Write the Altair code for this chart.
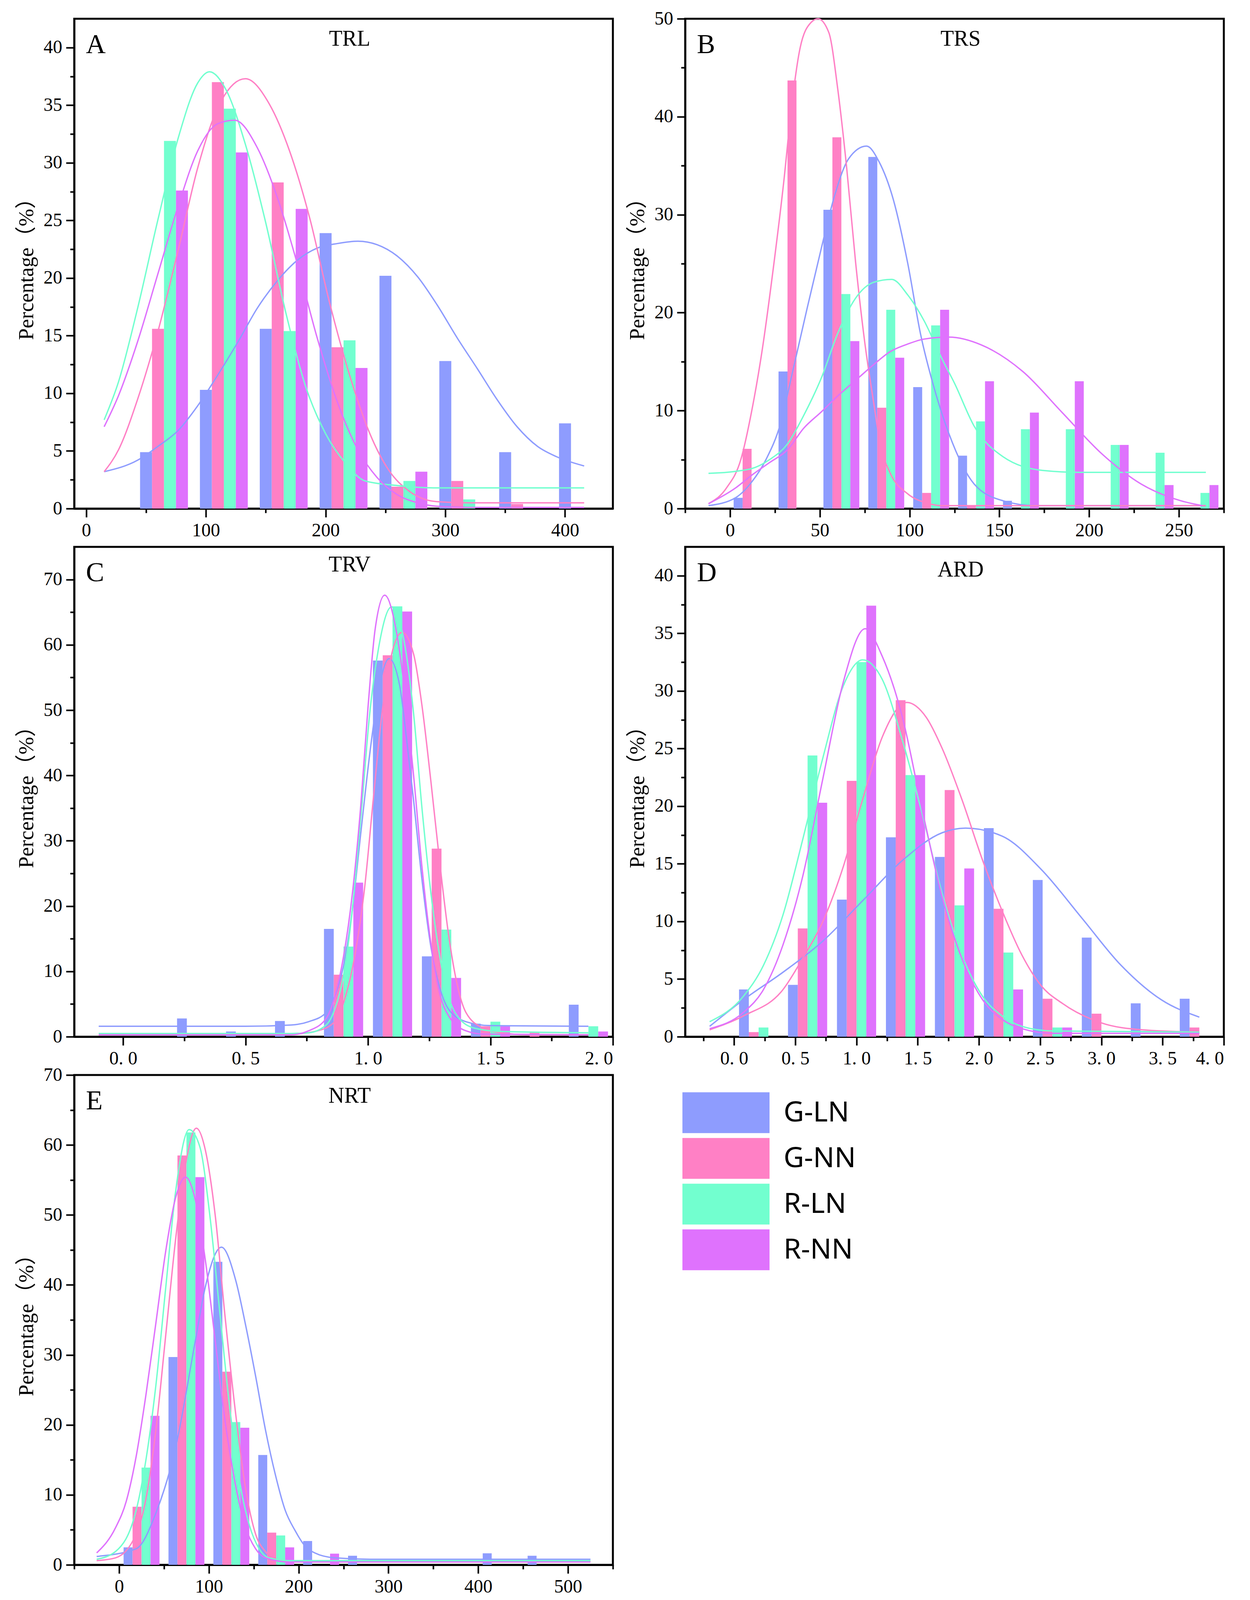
import pandas as pd
import altair as alt

SERIES = ["G-LN", "G-NN", "R-LN", "R-NN"]
COLORS = ["#8e9cfe", "#ff80c5", "#72ffcf", "#df72fd"]

# ---------- A : TRL ----------
a_bins = [45, 95, 145, 195, 245, 295, 345, 395]   # left edge of the G-LN bar
a_gln = [4.9, 10.3, 15.6, 23.9, 20.2, 12.8, 4.9, 7.4]
a_gnn = [15.6, 37.0, 28.3, 14.0, 1.9, 2.4, 0.4, 0]
a_rln = [31.9, 34.7, 15.4, 14.6, 2.4, 0.8, 0, 0]
a_rnn = [27.6, 30.9, 26.0, 12.2, 3.2, 0, 0, 0]
a_fit_gln = [(15, 3.2), (43, 4.2), (60, 5.4), (77, 6.8), (93, 8.9), (110, 11.6), (127, 14.5),
             (143, 17.4), (160, 19.8), (177, 21.6), (193, 22.6), (210, 23.0), (227, 23.2),
             (243, 22.9), (260, 21.9), (277, 20.1), (293, 17.7), (310, 14.8), (327, 12.1),
             (343, 9.5), (360, 7.1), (377, 5.4), (393, 4.5), (416, 3.7)]
a_fit_gnn = [(15, 3.2), (27, 5.1), (43, 9.5), (60, 15.4), (77, 22.5), (93, 29.5), (110, 34.8),
             (133, 37.3), (153, 35.1), (170, 31.0), (187, 25.1), (203, 18.0), (220, 11.6),
             (237, 6.5), (253, 3.3), (270, 1.5), (293, 0.6), (320, 0.5), (416, 0.5)]
a_fit_rln = [(15, 7.7), (27, 11.0), (43, 17.4), (60, 25.1), (77, 32.2), (93, 36.9), (103, 37.9),
             (117, 36.3), (133, 31.6), (150, 24.8), (167, 16.9), (183, 10.7), (200, 6.5),
             (217, 3.9), (233, 2.4), (260, 2.0), (290, 1.8), (416, 1.8)]
a_fit_rnn = [(15, 7.1), (27, 9.8), (43, 14.5), (60, 20.4), (77, 26.3), (93, 31.0), (110, 33.4),
             (124, 33.7), (143, 31.3), (160, 26.9), (177, 21.0), (193, 14.8), (210, 9.2),
             (227, 5.1), (243, 2.7), (260, 1.2), (277, 0.5), (293, 0.2), (320, 0.1), (416, 0.1)]
a_xticks = [0, 50, 100, 150, 200, 250, 300, 350, 400]
a_yticks = [0, 2.5, 5, 7.5, 10, 12.5, 15, 17.5, 20, 22.5, 25, 27.5, 30, 32.5, 35, 37.5, 40]

# ---------- B : TRS ----------
b_bins = [2, 27, 52, 77, 102, 127, 152, 177, 202, 227, 252]
b_gln = [1.1, 14.0, 30.5, 35.9, 12.4, 5.4, 0.8, 0, 0, 0, 0]
b_gnn = [6.1, 43.7, 37.9, 10.3, 1.6, 0.3, 0, 0, 0, 0, 0]
b_rln = [0, 0, 21.9, 20.3, 18.7, 8.9, 8.1, 8.1, 6.5, 5.7, 1.6]
b_rnn = [0, 0, 17.1, 15.4, 20.3, 13.0, 9.8, 13.0, 6.5, 2.4, 2.4]
b_fit_gln = [(-12, 0.3), (3, 1.1), (12, 2.7), (20, 5.0), (28, 8.6), (35, 14.1), (43, 20.5),
             (51, 26.7), (58, 31.8), (66, 35.7), (76, 37.0), (83, 35.4), (91, 31.5), (99, 25.0),
             (106, 17.9), (114, 12.1), (122, 7.6), (136, 2.5), (152, 0.8), (170, 0.3), (265, 0.3)]
b_fit_gnn = [(-12, 0.5), (-2, 2.1), (6, 5.0), (12, 9.9), (18, 16.3), (24, 24.4), (30, 33.5),
             (34, 40.6), (39, 47.0), (45, 49.6), (49, 50.0), (55, 48.6), (60, 42.8), (65, 34.7),
             (70, 25.0), (75, 17.0), (80, 10.8), (84, 6.3), (89, 3.7), (99, 1.5), (109, 0.6),
             (118, 0.3), (265, 0.3)]
b_fit_rln = [(-12, 3.6), (3, 3.8), (14, 4.2), (22, 5.0), (32, 6.6), (41, 9.5), (51, 13.4),
             (60, 17.9), (70, 21.5), (80, 23.1), (90, 23.4), (99, 21.8), (108, 19.2), (118, 15.3),
             (125, 12.8), (136, 8.4), (152, 5.3), (174, 3.9), (195, 3.7), (265, 3.7)]
b_fit_rnn = [(-12, 0.5), (3, 2.1), (12, 3.4), (22, 4.7), (32, 6.0), (41, 8.2), (51, 9.9),
             (60, 11.5), (70, 13.1), (80, 14.7), (89, 16.0), (99, 16.8), (108, 17.3), (122, 17.5),
             (140, 16.7), (163, 14.0), (185, 9.8), (207, 5.6), (229, 2.5), (251, 0.8), (263, 0.3)]
b_xticks = [-25, 0, 25, 50, 75, 100, 125, 150, 175, 200, 225, 250, 275]
b_yticks = [0, 5, 10, 15, 20, 25, 30, 35, 40, 45, 50]

# ---------- C : TRV ----------
c_bins = [0.22, 0.42, 0.62, 0.82, 1.02, 1.22, 1.42, 1.62, 1.82]
c_gln = [2.8, 0.8, 2.4, 16.5, 57.6, 12.3, 2.0, 0, 4.9]
c_gnn = [0, 0, 0, 9.5, 58.4, 28.8, 1.6, 0.7, 0]
c_rln = [0, 0, 0, 13.8, 65.9, 16.4, 2.3, 0, 1.6]
c_rnn = [0, 0, 0, 23.6, 65.1, 9.0, 1.6, 0, 0.8]
c_fit_gln = [(-0.1, 1.6), (0.5, 1.6), (0.686, 1.8), (0.757, 2.3), (0.829, 3.7), (0.864, 6.1),
             (0.9, 10.9), (0.936, 19.5), (0.971, 31.4), (1.007, 43.3), (1.043, 52.9),
             (1.086, 57.9), (1.129, 53.8), (1.157, 45.7), (1.186, 36.2), (1.221, 23.8),
             (1.257, 13.7), (1.293, 7.5), (1.329, 4.2), (1.4, 2.3), (1.5, 1.7), (1.9, 1.6)]
c_fit_gnn = [(-0.1, 0.3), (0.686, 0.4), (0.793, 0.9), (0.864, 2.3), (0.9, 5.2), (0.95, 13.3),
             (0.986, 22.8), (1.021, 36.2), (1.057, 49.5), (1.1, 59.1), (1.139, 61.9),
             (1.186, 58.6), (1.221, 50.5), (1.257, 39.0), (1.293, 26.6), (1.329, 15.6),
             (1.364, 8.0), (1.4, 3.7), (1.471, 1.3), (1.543, 0.6), (1.65, 0.3), (1.9, 0.3)]
c_fit_rln = [(-0.1, 0.5), (0.686, 0.5), (0.757, 0.6), (0.829, 1.8), (0.864, 4.2), (0.9, 9.4),
             (0.936, 19.5), (0.971, 33.8), (1.007, 49.5), (1.043, 59.5), (1.096, 65.8),
             (1.15, 60.0), (1.186, 49.5), (1.221, 34.7), (1.257, 21.9), (1.293, 12.3),
             (1.329, 6.1), (1.364, 3.2), (1.436, 1.3), (1.543, 0.8), (1.9, 0.6)]
c_fit_rnn = [(-0.1, 0.3), (0.686, 0.3), (0.757, 0.9), (0.829, 2.8), (0.864, 6.1), (0.9, 12.3),
             (0.936, 21.9), (0.971, 35.7), (1.0, 50.5), (1.029, 62.4), (1.068, 67.6),
             (1.114, 62.4), (1.15, 52.9), (1.186, 40.0), (1.221, 25.7), (1.257, 14.2),
             (1.293, 6.6), (1.329, 3.2), (1.4, 0.9), (1.471, 0.4), (1.9, 0.3)]
c_xticks = [0, 0.25, 0.5, 0.75, 1.0, 1.25, 1.5, 1.75, 2.0]
c_yticks = [0, 5, 10, 15, 20, 25, 30, 35, 40, 45, 50, 55, 60, 65, 70]

# ---------- D : ARD ----------
d_bins = [0.04, 0.44, 0.84, 1.24, 1.64, 2.04, 2.44, 2.84, 3.24, 3.64]
d_gln = [4.1, 4.5, 11.9, 17.3, 15.6, 18.1, 13.6, 8.6, 2.9, 3.3]
d_gnn = [0.4, 9.4, 22.2, 29.2, 21.4, 11.1, 3.3, 2.0, 0, 0.8]
d_rln = [0.8, 24.4, 32.5, 22.7, 11.4, 7.3, 0.8, 0, 0, 0]
d_rnn = [0, 20.3, 37.4, 22.7, 14.6, 4.1, 0.8, 0, 0, 0]
d_fit_gln = [(-0.2, 0.9), (0.075, 3.2), (0.4, 5.6), (0.725, 8.3), (1.05, 11.8), (1.375, 15.3),
             (1.7, 17.7), (1.89, 18.1), (2.19, 17.4), (2.51, 14.5), (2.84, 10.3), (3.16, 6.2),
             (3.49, 3.2), (3.8, 1.7)]
d_fit_gnn = [(-0.2, 0.6), (0.075, 1.8), (0.4, 4.1), (0.56, 6.8), (0.725, 10.0), (0.89, 14.7),
             (1.05, 20.6), (1.21, 26.0), (1.41, 29.0), (1.57, 27.7), (1.7, 25.0), (1.86, 20.6),
             (2.03, 15.3), (2.19, 10.9), (2.35, 7.1), (2.51, 4.4), (2.68, 2.9), (3.0, 1.2),
             (3.33, 0.6), (3.8, 0.4)]
d_fit_rln = [(-0.2, 1.3), (0.075, 3.5), (0.24, 6.2), (0.4, 10.6), (0.56, 17.1), (0.725, 24.2),
             (0.89, 30.4), (1.05, 32.7), (1.21, 31.0), (1.375, 25.7), (1.54, 19.2), (1.7, 12.4),
             (1.86, 7.1), (2.03, 3.5), (2.19, 1.8), (2.35, 0.9), (2.6, 0.5), (3.8, 0.4)]
d_fit_rnn = [(-0.2, 0.7), (0.075, 2.1), (0.24, 4.1), (0.4, 8.0), (0.56, 13.9), (0.725, 22.4),
             (0.89, 30.7), (1.07, 35.4), (1.21, 33.0), (1.375, 27.7), (1.54, 19.5), (1.7, 12.1),
             (1.86, 6.8), (2.03, 3.2), (2.19, 1.5), (2.35, 0.7), (2.6, 0.3), (3.8, 0.3)]
d_xticks = [-0.25, 0, 0.25, 0.5, 0.75, 1.0, 1.25, 1.5, 1.75, 2.0, 2.25, 2.5, 2.75, 3.0, 3.25,
            3.5, 3.75, 4.0]
d_yticks = a_yticks

# ---------- E : NRT ----------
e_bins = [5, 55, 105, 155, 205, 255, 305, 355, 405, 455]
e_gln = [2.5, 29.7, 43.3, 15.7, 3.4, 1.3, 0, 0, 1.65, 1.3]
e_gnn = [8.3, 58.5, 27.6, 4.6, 0, 0, 0, 0, 0, 0]
e_rln = [13.9, 61.8, 20.4, 4.2, 0, 0, 0, 0, 0, 0]
e_rnn = [21.3, 55.4, 19.6, 2.5, 1.6, 0, 0, 0, 0, 0]
e_fit_gln = [(-25, 1.2), (19, 2.3), (41, 7.4), (63, 16.8), (85, 32.1), (96, 39.7), (114, 45.4),
             (130, 40.6), (141, 34.2), (152, 27.0), (163, 19.3), (174, 12.9), (185, 7.8),
             (196, 4.9), (207, 2.7), (218, 1.7), (240, 1.0), (280, 0.8), (525, 0.8)]
e_fit_gnn = [(-25, 0.6), (-4, 1.0), (19, 4.4), (30, 9.5), (41, 19.3), (52, 32.9), (63, 46.6),
             (74, 57.2), (86, 62.4), (96, 59.3), (107, 50.0), (118, 35.5), (130, 21.4),
             (141, 10.8), (152, 4.4), (163, 1.9), (174, 0.8), (200, 0.5), (525, 0.5)]
e_fit_rln = [(-25, 0.8), (-4, 1.9), (19, 7.8), (30, 15.1), (41, 25.7), (52, 39.7), (63, 53.4),
             (78, 62.2), (90, 59.7), (101, 50.0), (112, 36.3), (123, 22.7), (134, 12.1),
             (145, 5.7), (156, 2.3), (167, 1.0), (190, 0.6), (525, 0.6)]
e_fit_rnn = [(-25, 1.7), (-4, 5.3), (8, 9.1), (19, 15.5), (30, 24.4), (41, 34.6), (52, 44.9),
             (63, 52.5), (74, 55.4), (85, 52.1), (96, 43.6), (107, 32.1), (118, 20.6),
             (130, 11.2), (141, 5.3), (152, 2.3), (163, 1.0), (190, 0.4), (525, 0.4)]
e_xticks = [-50, 0, 50, 100, 150, 200, 250, 300, 350, 400, 450, 500, 550]
e_yticks = c_yticks

# ---------- helpers ----------
W, H = 1379, 1254
SERIF = "Liberation Serif"
TITLE_FONT = "Liberation Serif, Noto Sans CJK SC"
color_scale = alt.Scale(domain=SERIES, range=COLORS)


def bar_frame(bins, width, groups):
    rows = []
    for k, (name, vals) in enumerate(zip(SERIES, groups)):
        for b, v in zip(bins, vals):
            if v > 0:
                rows.append({"series": name, "x0": b + k * width,
                             "x1": b + (k + 1) * width, "pct": v})
    return pd.DataFrame(rows)


def fit_frame(curves):
    rows = []
    for name, pts in zip(SERIES, curves):
        for x, y in pts:
            rows.append({"series": name, "x": x, "y": y})
    return pd.DataFrame(rows)


def make_axis(values, major, fmt, tick, title=None):
    is_major = f"abs(datum.value / {major} - round(datum.value / {major})) < 1e-6"
    return alt.Axis(
        values=values,
        title=title,
        grid=False,
        labelFont=SERIF,
        titleFont=TITLE_FONT,
        labelExpr=f"({is_major}) ? {fmt} : ''",
        tickSize={"condition": {"test": is_major, "value": tick}, "value": tick / 2},
    )


def panel(letter, name, name_y, bins, width, groups, curves, xdom, ydom,
          xticks, xmajor, yticks, ymajor, decimal_x=False):
    xs = alt.Scale(domain=xdom, nice=False, zero=False)
    ys = alt.Scale(domain=ydom, nice=False, zero=False)
    xfmt = ("replace(format(datum.value, '.1f'), '.', '. ')" if decimal_x
            else "format(datum.value, '.0f')")
    yfmt = "format(datum.value, '.0f')"

    bars = alt.Chart(bar_frame(bins, width, groups)).mark_bar().encode(
        x=alt.X("x0:Q", scale=xs, axis=make_axis(xticks, xmajor, xfmt, 22)),
        x2="x1:Q",
        y=alt.Y("pct:Q", scale=ys,
                axis=make_axis(yticks, ymajor, yfmt, 21, "Percentage（%）")),
        y2=alt.datum(0),
        color=alt.Color("series:N", scale=color_scale, legend=None),
    )
    lines = alt.Chart(fit_frame(curves)).mark_line(
        strokeWidth=3.5, interpolate="monotone"
    ).encode(
        x=alt.X("x:Q", scale=xs),
        y=alt.Y("y:Q", scale=ys),
        color=alt.Color("series:N", scale=color_scale, legend=None),
    )
    tag = alt.Chart(pd.DataFrame({"t": [letter]})).mark_text(
        font=SERIF, fontSize=70, align="left", baseline="alphabetic", color="black"
    ).encode(text="t:N", x=alt.value(30), y=alt.value(88))
    head = alt.Chart(pd.DataFrame({"t": [name]})).mark_text(
        font=SERIF, fontSize=56, align="center", baseline="alphabetic", color="black"
    ).encode(text="t:N", x=alt.value(705), y=alt.value(name_y))
    return alt.layer(bars, lines, tag, head).properties(width=W, height=H)


def legend_panel():
    ly = alt.Y("series:N", sort=SERIES, axis=None,
               scale=alt.Scale(domain=SERIES, range=[38, 506],
                               paddingInner=0.108, paddingOuter=0.054))
    base = alt.Chart(pd.DataFrame({"series": SERIES}))
    keys = base.mark_rect().encode(
        y=ly, x=alt.value(-7), x2=alt.value(216),
        color=alt.Color("series:N", scale=color_scale, legend=None),
    )
    names = base.mark_text(
        font="Noto Sans", fontSize=72, align="left", baseline="middle", color="black"
    ).encode(y=ly, x=alt.value(252), text="series:N")
    return alt.layer(keys, names).properties(
        width=W, height=H, view=alt.ViewBackground(stroke="transparent", strokeWidth=0)
    )


pA = panel("A", "TRL", 69, a_bins, 10, [a_gln, a_gnn, a_rln, a_rnn],
           [a_fit_gln, a_fit_gnn, a_fit_rln, a_fit_rnn], [-10, 440], [0, 42.5],
           a_xticks, 100, a_yticks, 5)
pB = panel("B", "TRS", 69, b_bins, 5, [b_gln, b_gnn, b_rln, b_rnn],
           [b_fit_gln, b_fit_gnn, b_fit_rln, b_fit_rnn], [-25, 275], [0, 50],
           b_xticks, 50, b_yticks, 10)
pC = panel("C", "TRV", 63, c_bins, 0.04, [c_gln, c_gnn, c_rln, c_rnn],
           [c_fit_gln, c_fit_gnn, c_fit_rln, c_fit_rnn], [-0.2, 2.0], [0, 75],
           c_xticks, 0.5, c_yticks, 10, decimal_x=True)
pD = panel("D", "ARD", 76, d_bins, 0.08, [d_gln, d_gnn, d_rln, d_rnn],
           [d_fit_gln, d_fit_gnn, d_fit_rln, d_fit_rnn], [-0.4, 4.0], [0, 42.5],
           d_xticks, 0.5, d_yticks, 5, decimal_x=True)
pE = panel("E", "NRT", 71, e_bins, 10, [e_gln, e_gnn, e_rln, e_rnn],
           [e_fit_gln, e_fit_gnn, e_fit_rln, e_fit_rnn], [-50, 550], [0, 70],
           e_xticks, 100, e_yticks, 10)

chart = (
    alt.concat(pA, pB, pC, pD, pE, legend_panel(), columns=2,
               spacing={"row": 98, "column": 185}, bounds="flush")
    .properties(padding={"left": 30, "top": 13, "right": 0, "bottom": 0})
    .configure_view(stroke="black", strokeWidth=5)
    .configure_axis(
        domainColor="black", domainWidth=5, tickColor="black", tickWidth=4,
        labelFont=SERIF, labelFontSize=48, labelColor="black", labelPadding=10,
        titleFont=TITLE_FONT, titleFontSize=54, titleFontWeight="normal",
        titleColor="black", titlePadding=16,
    )
)

chart.save("out.html", embed_options={"renderer": "svg", "actions": False})
